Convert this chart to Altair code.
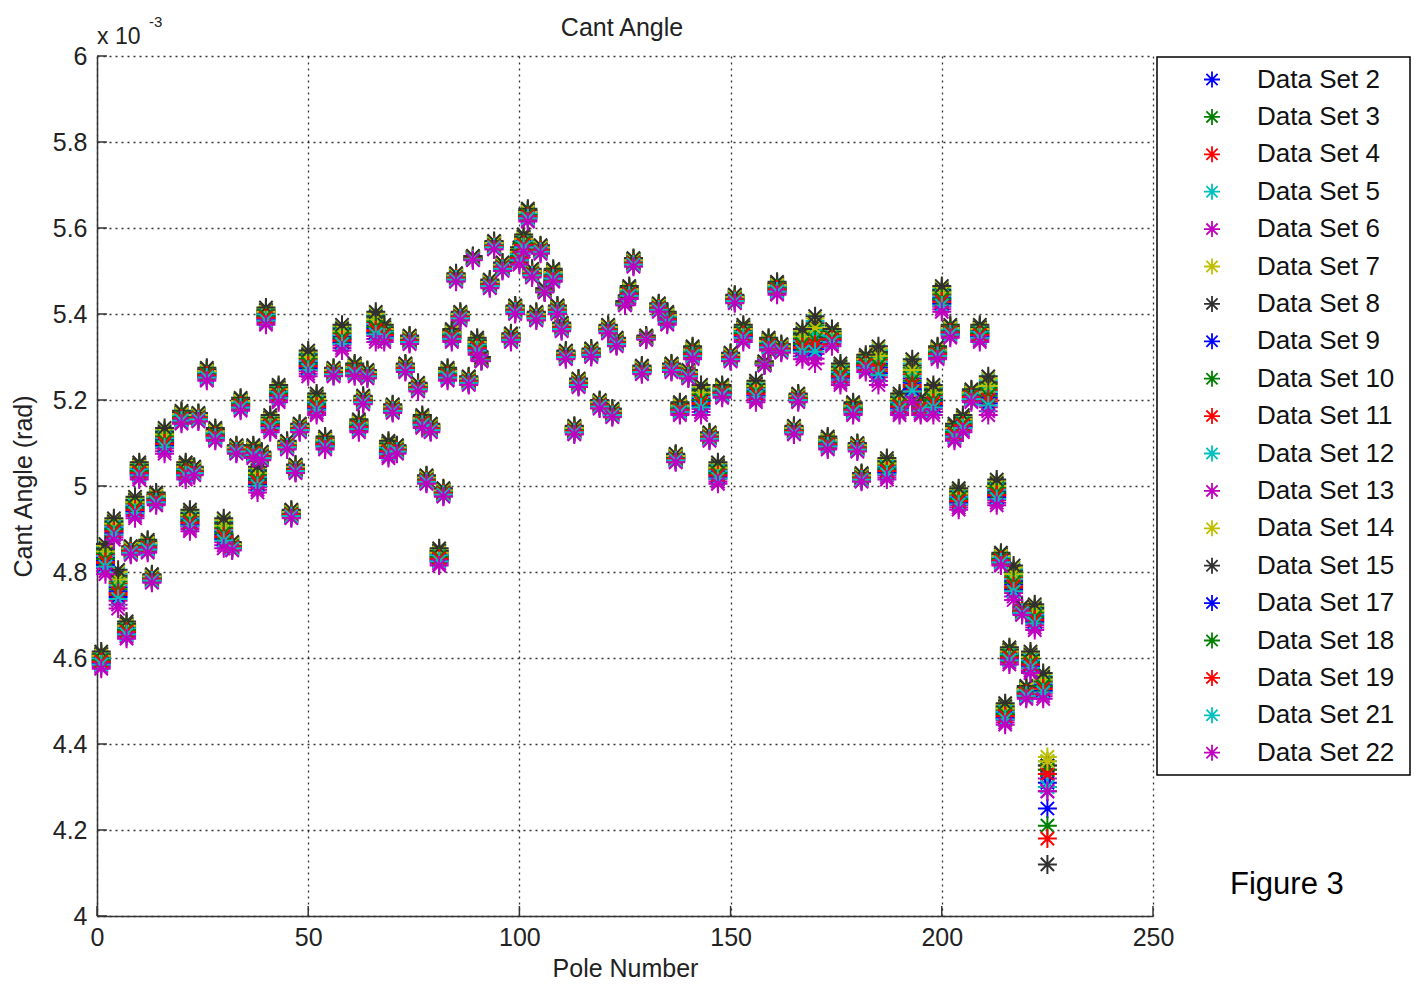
import altair as alt
import pandas as pd

FONT = "Liberation Sans, Arial, Helvetica, sans-serif"

# Data sets and their marker colours (cycle b, g, r, c, m, y, k)
SERIES = [
    "Data Set 2", "Data Set 3", "Data Set 4", "Data Set 5", "Data Set 6",
    "Data Set 7", "Data Set 8", "Data Set 9", "Data Set 10", "Data Set 11",
    "Data Set 12", "Data Set 13", "Data Set 14", "Data Set 15", "Data Set 17",
    "Data Set 18", "Data Set 19", "Data Set 21", "Data Set 22",
]
COLORS = [
    "#0000ff", "#008000", "#ff0000", "#00bfbf", "#bf00bf", "#bfbf00", "#303030",
    "#0000ff", "#008000", "#ff0000", "#00bfbf", "#bf00bf", "#bfbf00", "#303030",
    "#0000ff", "#008000", "#ff0000", "#00bfbf", "#bf00bf",
]
# Where each data set sits inside the spread measured at a pole (0 = lowest, 1 = highest)
RANK = [0.55, 0.80, 0.65, 0.90, 0.20, 0.95, 0.85, 0.45, 0.70, 0.35,
        0.60, 0.10, 0.75, 1.00, 0.30, 0.50, 0.40, 0.25, 0.00]

# Pole numbers with the lowest / highest cant angle measured there (x 10^-3 rad)
POLES = [1, 2, 4, 5, 7, 8, 9, 10, 12, 13, 14, 16, 20, 21, 22, 23, 24, 26, 28, 30,
         32, 33, 34, 37, 38, 39, 40, 41, 43, 45, 46, 47, 48, 50, 52, 54, 56, 58, 61, 62,
         63, 64, 66, 68, 69, 70, 71, 73, 74, 76, 77, 78, 79, 81, 82, 83, 84, 85, 86, 88,
         89, 90, 91, 93, 94, 96, 98, 99, 100, 101, 102, 103, 104, 105, 106, 108, 109, 110, 111, 113,
         114, 117, 119, 121, 122, 123, 125, 126, 127, 129, 130, 133, 135, 136, 137, 138, 140, 141, 143, 145,
         147, 148, 150, 151, 153, 156, 158, 159, 161, 162, 165, 166, 167, 170, 173, 174, 176, 179, 180, 181,
         182, 185, 187, 190, 193, 195, 198, 199, 200, 202, 203, 204, 205, 207, 209, 211, 213, 214, 215, 216,
         217, 219, 220, 221, 222, 224]
LOW = [4.575, 4.795, 4.875, 4.715, 4.645, 4.84, 4.925, 5.015, 4.845, 4.775, 4.955, 5.075, 5.145, 5.015, 4.895, 5.025, 5.15, 5.245, 5.105, 4.855,
       4.85, 5.075, 5.175, 5.065, 4.985, 5.06, 5.375, 5.125, 5.195, 5.085, 4.925, 5.03, 5.125, 5.255, 5.165, 5.085, 5.255, 5.315, 5.255, 5.125,
       5.19, 5.25, 5.335, 5.335, 5.065, 5.17, 5.075, 5.265, 5.33, 5.22, 5.135, 5.005, 5.125, 4.815, 4.975, 5.245, 5.335, 5.475, 5.385, 5.235,
       5.525, 5.305, 5.29, 5.46, 5.55, 5.50, 5.335, 5.40, 5.515, 5.545, 5.615, 5.485, 5.385, 5.54, 5.45, 5.475, 5.40, 5.36, 5.295, 5.12,
       5.23, 5.30, 5.18, 5.355, 5.16, 5.325, 5.42, 5.435, 5.51, 5.26, 5.34, 5.405, 5.375, 5.265, 5.055, 5.165, 5.25, 5.295, 5.165, 5.105,
       5.005, 5.205, 5.29, 5.425, 5.335, 5.195, 5.28, 5.315, 5.445, 5.31, 5.12, 5.195, 5.295, 5.285, 5.085, 5.325, 5.235, 5.165, 5.08, 5.01,
       5.265, 5.235, 5.015, 5.165, 5.195, 5.165, 5.165, 5.295, 5.405, 5.345, 5.105, 4.945, 5.125, 5.195, 5.335, 5.165, 4.955, 4.815, 4.445, 4.585,
       4.735, 4.70, 4.505, 4.565, 4.665, 4.505]
HIGH = [4.615, 4.865, 4.925, 4.805, 4.685, 4.86, 4.975, 5.055, 4.875, 4.795, 4.985, 5.135, 5.175, 5.055, 4.945, 5.045, 5.17, 5.275, 5.135, 4.925,
        4.87, 5.095, 5.205, 5.095, 5.045, 5.08, 5.415, 5.165, 5.235, 5.105, 4.945, 5.05, 5.145, 5.315, 5.215, 5.115, 5.275, 5.375, 5.285, 5.155,
        5.21, 5.27, 5.405, 5.375, 5.105, 5.19, 5.095, 5.285, 5.35, 5.24, 5.165, 5.025, 5.145, 4.855, 4.995, 5.275, 5.365, 5.495, 5.405, 5.255,
        5.535, 5.345, 5.30, 5.48, 5.57, 5.52, 5.355, 5.42, 5.555, 5.585, 5.645, 5.505, 5.405, 5.56, 5.46, 5.505, 5.42, 5.38, 5.315, 5.14,
        5.25, 5.32, 5.20, 5.375, 5.18, 5.345, 5.43, 5.465, 5.53, 5.28, 5.35, 5.425, 5.405, 5.285, 5.075, 5.195, 5.27, 5.325, 5.235, 5.125,
        5.055, 5.235, 5.31, 5.445, 5.375, 5.245, 5.29, 5.345, 5.475, 5.33, 5.14, 5.215, 5.365, 5.395, 5.115, 5.365, 5.285, 5.195, 5.10, 5.03,
        5.305, 5.325, 5.065, 5.215, 5.295, 5.205, 5.235, 5.325, 5.465, 5.375, 5.145, 4.995, 5.165, 5.225, 5.375, 5.255, 5.015, 4.845, 4.495, 4.625,
        4.815, 4.72, 4.535, 4.615, 4.725, 4.565]

# Final pole, where the data sets separate widely
LAST_POLE = 225
LAST_VALUES = [4.33, 4.35, 4.34, 4.36, 4.32, 4.37, 4.35, 4.31, 4.34, 4.33,
               4.30, 4.29, 4.36, 4.12, 4.25, 4.21, 4.18, 4.30, 4.29]

XTICKS = [0, 50, 100, 150, 200, 250]
YTICKS = [4.0, 4.2, 4.4, 4.6, 4.8, 5.0, 5.2, 5.4, 5.6, 5.8, 6.0]

rows = []
for i, name in enumerate(SERIES):
    for p, lo, hi in zip(POLES, LOW, HIGH):
        rows.append({"series": name, "k": i, "pole": p, "cant": lo + RANK[i] * (hi - lo)})
    rows.append({"series": name, "k": i, "pole": LAST_POLE, "cant": LAST_VALUES[i]})
df = pd.DataFrame(rows)

W, H = 1056, 860
STAR = "M-1,0L1,0M0,-1L0,1M-0.7,-0.7L0.7,0.7M-0.7,0.7L0.7,-0.7"

X_ENC = alt.X(
    "pole:Q",
    scale=alt.Scale(domain=[0, 250], nice=False, zero=False),
    axis=alt.Axis(values=XTICKS, title="Pole Number", labelPadding=9, titlePadding=6,
                  labelFlush=False, labelOverlap=False),
)
Y_ENC = alt.Y(
    "cant:Q",
    scale=alt.Scale(domain=[4, 6], nice=False, zero=False),
    axis=alt.Axis(values=YTICKS, format=".1~f", title="Cant Angle (rad)", labelPadding=10,
                  titlePadding=16, labelFlush=False, labelOverlap=False),
)

legend_box = alt.Chart(pd.DataFrame({"a": [0]})).mark_rect(
    fill="white", stroke="black", strokeWidth=1.5
).encode(x=alt.value(1060), x2=alt.value(1313), y=alt.value(1), y2=alt.value(719))

points = alt.Chart(df).mark_point(
    shape=STAR, filled=False, size=360, strokeWidth=2, opacity=1
).encode(
    x=X_ENC,
    y=Y_ENC,
    color=alt.Color(
        "series:N",
        sort=SERIES,
        scale=alt.Scale(domain=SERIES, range=COLORS),
        legend=alt.Legend(
            orient="none", legendX=1102, legendY=10.5, direction="vertical",
            title=None, padding=0, symbolOffset=0, labelOffset=32,
            labelFont=FONT, labelFontSize=26, labelColor="#111", labelLimit=400,
            symbolType=STAR, symbolSize=256, symbolStrokeWidth=1.8,
            rowPadding=11.4, symbolLimit=50,
        ),
    ),
    order=alt.Order("k:Q"),
)

ytick_df = pd.DataFrame({"cant": YTICKS})
xtick_df = pd.DataFrame({"pole": XTICKS})
left_ticks = alt.Chart(ytick_df).mark_rule(color="#333", strokeWidth=1.5).encode(
    y=Y_ENC, x=alt.value(0), x2=alt.value(10)
)
bottom_ticks = alt.Chart(xtick_df).mark_rule(color="#333", strokeWidth=1.5).encode(
    x=X_ENC, y=alt.value(H), y2=alt.value(H - 10)
)

one = pd.DataFrame({"a": [0]})
plot_title = alt.Chart(one).mark_text(
    text="Cant Angle", font=FONT, fontSize=25, color="#222", align="center", baseline="alphabetic"
).encode(x=alt.value(W / 2 - 3), y=alt.value(-20))
exp_base = alt.Chart(one).mark_text(
    text="x 10", font=FONT, fontSize=23, color="#222", align="left", baseline="alphabetic"
).encode(x=alt.value(0), y=alt.value(-12))
exp_power = alt.Chart(one).mark_text(
    text="-3", font=FONT, fontSize=15, color="#222", align="left", baseline="alphabetic"
).encode(x=alt.value(52), y=alt.value(-29))
fig_label = alt.Chart(one).mark_text(
    text="Figure 3", font=FONT, fontSize=31, color="#000", align="left", baseline="alphabetic"
).encode(x=alt.value(1133), y=alt.value(838))

chart = alt.layer(
    legend_box, left_ticks, bottom_ticks, points, plot_title, exp_base, exp_power, fig_label
).properties(
    width=W,
    height=H,
    padding={"left": 97, "top": 56, "right": 266, "bottom": 75},
    autosize=alt.AutoSizeParams(type="none"),
).configure_view(
    stroke=None
).configure_axis(
    domainColor="#333", domainWidth=1.5, ticks=False,
    labelFont=FONT, labelFontSize=25, labelColor="#222",
    titleFont=FONT, titleFontSize=25, titleFontWeight="normal", titleColor="#222",
    grid=True, gridColor="#000", gridDash=[2, 4], gridOpacity=0.8, gridWidth=1.3,
)

chart.save("out.html", embed_options={"renderer": "svg", "actions": False})
